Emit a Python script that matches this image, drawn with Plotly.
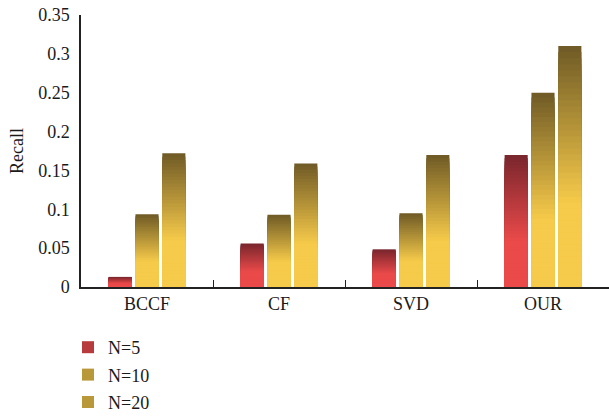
import plotly.graph_objects as go

categories = ["BCCF", "CF", "SVD", "OUR"]
n5 = [0.013, 0.056, 0.0485, 0.17]
n10 = [0.0935, 0.093, 0.095, 0.25]
n20 = [0.172, 0.159, 0.17, 0.31]
series_names = ["N=5", "N=10", "N=20"]
y_ticks = [0, 0.05, 0.1, 0.15, 0.2, 0.25, 0.3, 0.35]
y_ticklabels = ["0", "0.05", "0.1", "0.15", "0.2", "0.25", "0.3", "0.35"]

red_top, red_bot = (120, 38, 45), (234, 74, 74)
gold_top, gold_bot = (110, 90, 38), (246, 202, 74)
palettes = [(red_top, red_bot), (gold_top, gold_bot), (gold_top, gold_bot)]


def mix(c1, c2, t):
    return "rgb(%d,%d,%d)" % tuple(round(a + (b - a) * t) for a, b in zip(c1, c2))


fig = go.Figure()
NSEG = 40
for si, (vals, name) in enumerate(zip([n5, n10, n20], series_names)):
    top, bot = palettes[si]
    # nested bars from zero: tallest first (top colour), shorter ones over it
    for k in range(NSEG):
        h = (NSEG - k) / NSEG
        frac = h - 0.5 / NSEG
        t = min(1.0, max(0.0, (frac - 0.35) / 0.65))
        col = mix(bot, top, t)
        fig.add_trace(go.Bar(
            x=categories,
            y=[v * h for v in vals],
            offsetgroup=str(si),
            marker=dict(color=col, line=dict(width=0)),
            name=name,
            legendgroup=name,
            showlegend=False,
            hoverinfo="skip",
        ))
    fig.add_trace(go.Bar(
        x=categories, y=[None] * 4, offsetgroup=str(si), name=name,
        legendgroup=name, showlegend=True,
        marker=dict(color=mix(bot, top, 0.45), line=dict(width=0)),
    ))

W, H = 609, 417
fig.update_layout(
    width=W, height=H,
    margin=dict(l=81, r=0, t=15, b=130, autoexpand=False),
    plot_bgcolor="white", paper_bgcolor="white",
    barmode="group", bargap=0.39, bargroupgap=0.14,
    font=dict(family="Liberation Serif", size=18, color="#1a1a1a"),
    showlegend=True,
    legend=dict(xref="container", yref="container",
                x=68 / W, y=1 - 329 / H, xanchor="left", yanchor="top",
                orientation="v", font=dict(size=18), tracegroupgap=1,
                itemwidth=30),
    xaxis=dict(showline=True, linecolor="#222", linewidth=1.5,
               ticks="inside", ticklen=7, tickson="boundaries",
               tickcolor="#222", range=[-0.5, 3.5], showgrid=False,
               tickfont=dict(size=18), automargin=False),
    yaxis=dict(showline=True, linecolor="#222", linewidth=1.5,
               range=[0, 0.35], tickvals=y_ticks, ticktext=y_ticklabels,
               ticks="outside", ticklen=6, tickcolor="rgba(0,0,0,0)",
               showgrid=False, zeroline=False, automargin=False,
               tickfont=dict(size=18)),
    annotations=[dict(text="Recall", textangle=-90, xref="paper", yref="paper",
                      x=(17 - 81) / 528, y=0.5, xanchor="center", yanchor="middle",
                      showarrow=False, font=dict(size=18))],
)

fig.write_html("out.html",
               config={"displayModeBar": False},
               post_script="document.body.style.margin='0';document.body.style.overflow='hidden';")
